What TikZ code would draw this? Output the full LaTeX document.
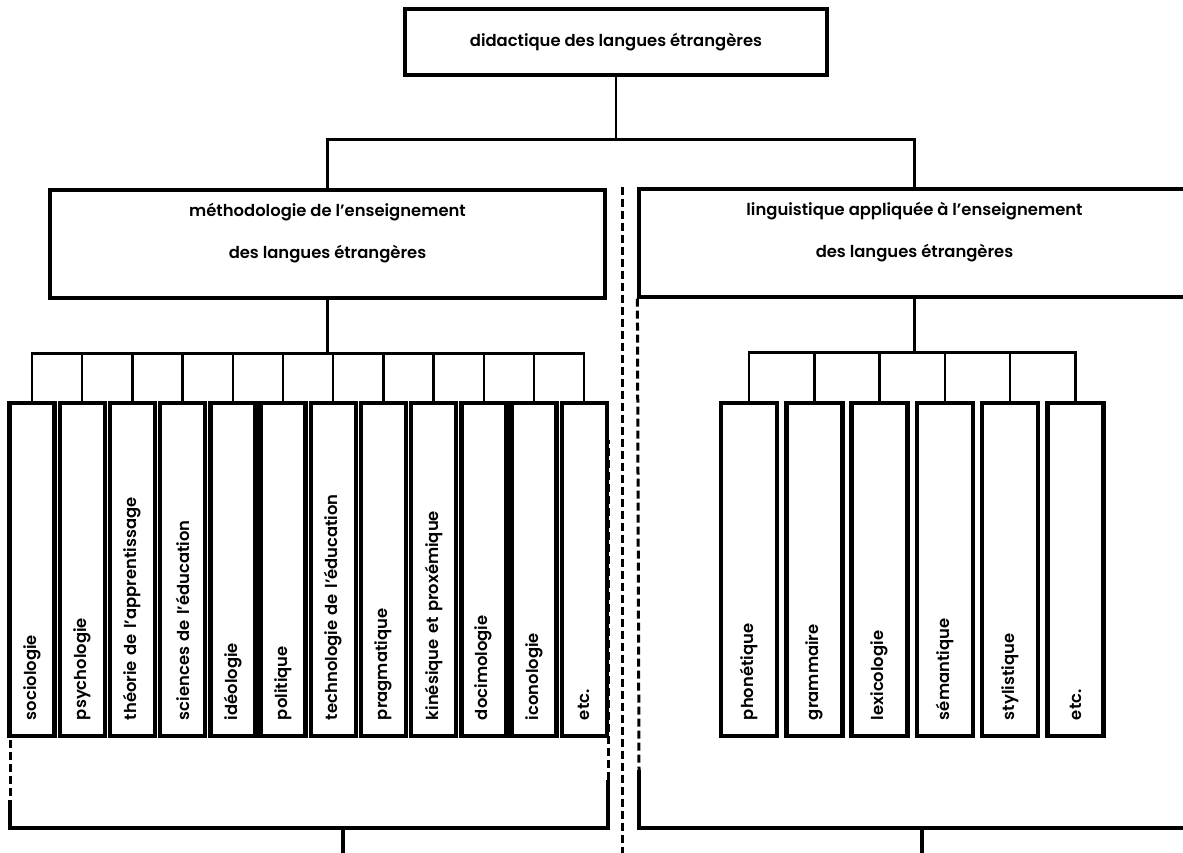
\documentclass[tikz,border=0pt]{standalone}
\usepackage{fontspec}
\setmainfont{Poppins}[BoldFont={* SemiBold}]

\begin{document}
\begin{tikzpicture}
	[x=0.5pt, y=-0.5pt, line width=1.2pt,
	 head/.style={draw, line width=1.6pt, minimum width=211pt, minimum height=33pt, font=\fontsize{8.2}{10}\selectfont\bfseries},
	 branch/.style={draw, line width=1.6pt, minimum height=54pt, align=center, text depth=13pt, font=\fontsize{8.2}{21}\selectfont\bfseries},
	 leaf/.style={draw, line width=2.2pt, rotate=90, minimum width=166.5pt, text width=150.5pt, inner xsep=8pt, align=left, font=\fontsize{8.2}{10}\selectfont\bfseries},
	 leafm/.style={leaf, minimum height=22.5pt},
	 leafa/.style={leaf, minimum height=28pt},
	 link/.style={line width=1.2pt},
	 rim/.style={line width=1.6pt},
	 sep/.style={line width=1.5pt, dash pattern=on 4pt off 2pt}]
   \useasboundingbox (0,0) rectangle (1183,852);
   \node[head] (didac) at (616,42) {didactique des langues étrangères};
   \node[branch, minimum width=277.5pt] (metho) at (327.5,244) {méthodologie de l'enseignement\\des langues étrangères};
   \node[branch, minimum width=275.5pt] (ling) at (914.5,243) {linguistique appliquée à l'enseignement\\des langues étrangères};
   % methodologie
   \node[leafm] (socio)  at (32,569.5)    {sociologie};
   \node[leafm] (psycho) at (82.2,569.5)  {psychologie};
   \node[leafm] (theo)   at (132.4,569.5) {théorie de l'apprentissage};
   \node[leafm] (scien)  at (182.6,569.5) {sciences de l'éducation};
   \node[leafm] (ideo)   at (232.8,569.5) {idéologie};
   \node[leafm] (poli)   at (283,569.5)   {politique};
   \node[leafm] (techno) at (333.2,569.5) {technologie de l'éducation};
   \node[leafm] (pragma) at (383.4,569.5) {pragmatique};
   \node[leafm] (kine)   at (433.6,569.5) {kinésique et proxémique};
   \node[leafm] (doci)   at (483.8,569.5) {docimologie};
   \node[leafm] (icono)  at (534,569.5)   {iconologie};
   \node[leafm] (metc)   at (584.2,569.5) {etc.};
   % linguistique
   \node[leafa] (phon)   at (749,569.5)    {phonétique};
   \node[leafa] (gram)   at (814.3,569.5)  {grammaire};
   \node[leafa] (lexi)   at (879.6,569.5)  {lexicologie};
   \node[leafa] (sema)   at (944.9,569.5)  {sémantique};
   \node[leafa] (styl)   at (1010.2,569.5) {stylistique};
   \node[leafa] (letc)   at (1075.5,569.5) {etc.};

   \coordinate (hub)  at ([yshift=-31.5pt]didac.south);
   \coordinate (mbus) at ([yshift=-27pt]metho.south);
   \coordinate (lbus) at ([yshift=-27pt]ling.south);
   \draw[link] (didac.south) -- (hub) -| (metho.north);
   \draw[link] (hub) -| (ling.north);
   \draw[link] (metho.south) -- (mbus);
   \draw[link] (ling.south) -- (lbus);
   \draw[link]
    (mbus) -| (socio.east)  (mbus) -| (psycho.east)
    (mbus) -| (theo.east)   (mbus) -| (scien.east)
    (mbus) -| (ideo.east)   (mbus) -| (poli.east)
    (mbus) -| (techno.east) (mbus) -| (pragma.east)
    (mbus) -| (kine.east)   (mbus) -| (doci.east)
    (mbus) -| (icono.east)  (mbus) -| (metc.east);
   \draw[link]
    (lbus) -| (phon.east) (lbus) -| (gram.east)
    (lbus) -| (lexi.east) (lbus) -| (sema.east)
    (lbus) -| (styl.east) (lbus) -| (letc.east);

   % frames
   \draw[sep] (10,740) -- (10,800);
   \draw[rim] (10,800) -- (10,828) -- (608,828) -- (608,780);
   \draw[sep] (608,780) -- (608,440);
   \draw[sep] (ling.south west) -- (639,770);
   \draw[rim] (639,770) |- (1190,828);
   \coordinate (sepTop) at (622,187);
   \coordinate (sepBot) at (622,860);
   \draw[sep] (sepTop) -- (sepBot);
   \coordinate (lfoot) at (343,828);
   \coordinate (lout)  at (343,860);
   \coordinate (rfoot) at (922,828);
   \coordinate (rout)  at (922,860);
   \draw[rim] (lfoot) -- (lout);
   \draw[rim] (rfoot) -- (rout);
\end{tikzpicture}
\end{document}
